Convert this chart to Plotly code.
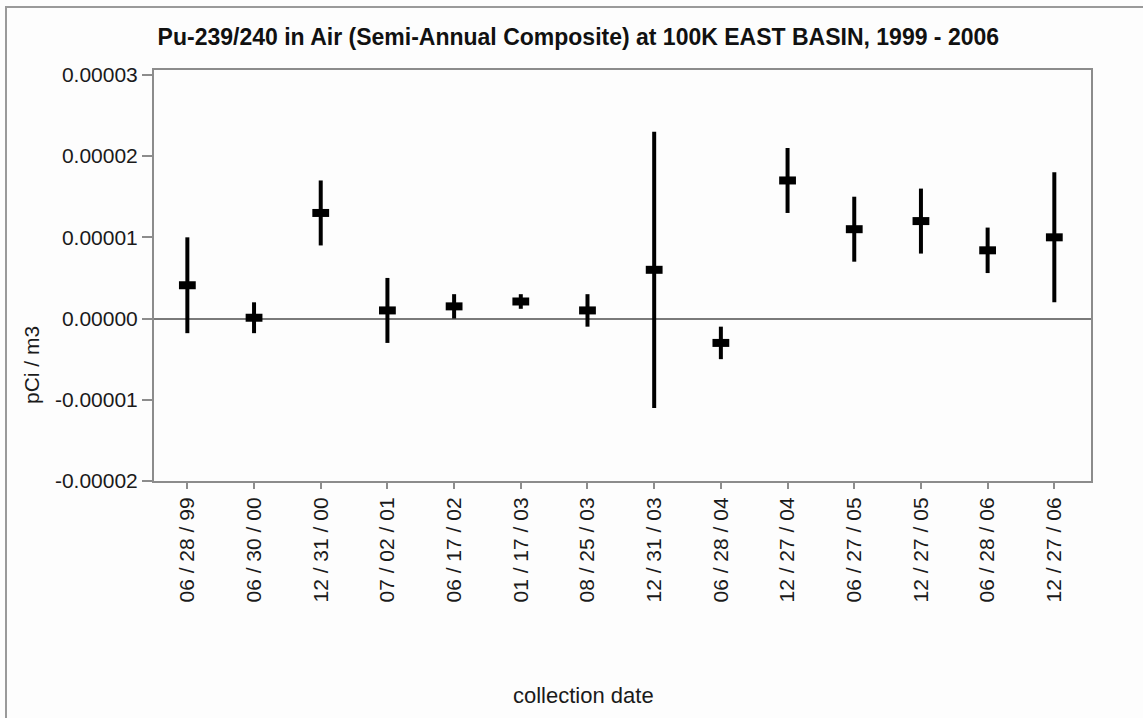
import plotly.graph_objects as go

# Semi-annual composite air samples, Pu-239/240 (pCi/m3)
dates = ["06 / 28 / 99", "06 / 30 / 00", "12 / 31 / 00", "07 / 02 / 01",
         "06 / 17 / 02", "01 / 17 / 03", "08 / 25 / 03", "12 / 31 / 03",
         "06 / 28 / 04", "12 / 27 / 04", "06 / 27 / 05", "12 / 27 / 05",
         "06 / 28 / 06", "12 / 27 / 06"]
values = [4.1e-6, 0.1e-6, 1.3e-5, 1.0e-6, 1.5e-6, 2.1e-6, 1.0e-6,
          6.0e-6, -3.0e-6, 1.7e-5, 1.1e-5, 1.2e-5, 8.4e-6, 1.0e-5]
uncert = [5.9e-6, 1.9e-6, 4.0e-6, 4.0e-6, 1.5e-6, 0.9e-6, 2.0e-6,
          1.7e-5, 2.0e-6, 4.0e-6, 4.0e-6, 4.0e-6, 2.8e-6, 8.0e-6]
y_ticks = [-2e-5, -1e-5, 0, 1e-5, 2e-5, 3e-5]
y_tick_text = [f"{v:.5f}" for v in y_ticks]

FONT = "Liberation Sans, Arial, sans-serif"
GRAY = "#8c8c8c"
TXT = "#1a1a1a"

fig = go.Figure()

# vertical uncertainty bars
fig.add_trace(go.Scatter(
    x=dates, y=values, mode="markers",
    marker=dict(size=1, color="black", opacity=0),
    error_y=dict(type="data", array=uncert, visible=True,
                 color="black", thickness=4, width=0),
    showlegend=False, hoverinfo="skip"))

# result marker: short thick horizontal block
fig.add_trace(go.Scatter(
    x=dates, y=values, mode="markers",
    marker=dict(symbol="line-ew", size=12, color="black",
                line=dict(width=8, color="black")),
    showlegend=False))

L, R, T, B = 154, 52, 70, 237
W, H = 1143, 718
pw, ph = W - L - R, H - T - B

fig.update_layout(
    width=W, height=H,
    margin=dict(l=L, r=R, t=T, b=B),
    paper_bgcolor="#fdfdfd", plot_bgcolor="#fdfdfd",
    font=dict(family=FONT, color=TXT),
    title=dict(text="<b>Pu-239/240 in Air (Semi-Annual Composite) at 100K EAST BASIN, 1999 - 2006</b>",
               x=0.506, xanchor="center", y=1 - 37 / H, yanchor="middle",
               font=dict(size=23, family=FONT, color="#111")),
    xaxis=dict(type="category", range=[-0.5, 13.55], tickangle=-90,
               showline=True, linecolor=GRAY, linewidth=2, mirror=True,
               ticks="outside", ticklen=6, tickcolor=GRAY, tickwidth=2,
               showgrid=False, zeroline=False,
               tickfont=dict(size=21, family=FONT, color=TXT)),
    yaxis=dict(range=[-2e-5, 3.06e-5], tickvals=y_ticks, ticktext=y_tick_text,
               showline=True, linecolor=GRAY, linewidth=2, mirror=True,
               ticks="outside", ticklen=10, tickcolor=GRAY, tickwidth=2,
               showgrid=False, zeroline=True, zerolinecolor="#7a7a7a",
               zerolinewidth=1.5,
               tickfont=dict(size=21, family=FONT, color=TXT)),
)

# axis titles placed as annotations
fig.add_annotation(text="collection date", xref="paper", yref="paper",
                   x=(583 - L) / pw, y=(H - B - 695) / ph, showarrow=False,
                   xanchor="center", yanchor="middle",
                   font=dict(size=22, family=FONT, color=TXT))
fig.add_annotation(text="pCi / m3", xref="paper", yref="paper", textangle=-90,
                   x=(31 - L) / pw, y=(H - B - 365) / ph, showarrow=False,
                   xanchor="center", yanchor="middle",
                   font=dict(size=21, family=FONT, color=TXT))

# outer frame of the chart panel
fig.add_shape(type="rect", xref="paper", yref="paper",
              x0=(6 - L) / pw, x1=(W + 10 - L) / pw,
              y0=(H - B - (H + 10)) / ph, y1=(H - B - 7) / ph,
              line=dict(color="#9a9a9a", width=2), fillcolor="rgba(0,0,0,0)",
              layer="below")

fig.write_html("out.html")
